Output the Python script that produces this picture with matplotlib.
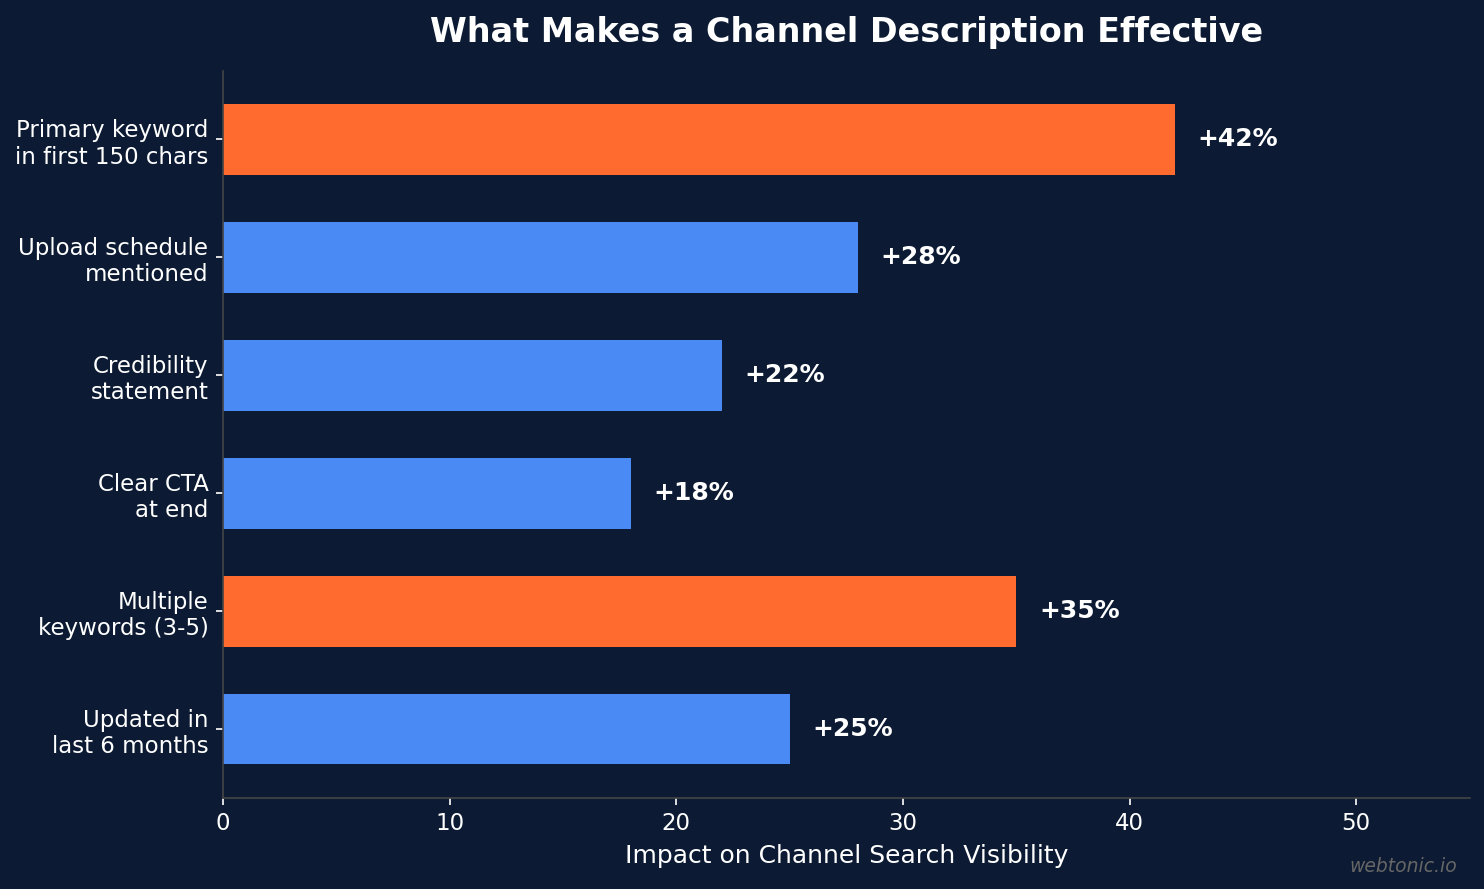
import matplotlib
matplotlib.use("Agg")
import matplotlib.pyplot as plt

categories = ["Primary keyword\nin first 150 chars", "Upload schedule\nmentioned",
              "Credibility\nstatement", "Clear CTA\nat end",
              "Multiple\nkeywords (3-5)", "Updated in\nlast 6 months"]
values = [42, 28, 22, 18, 35, 25]
highlight = [True, False, False, False, True, False]
labels = ["+42%", "+28%", "+22%", "+18%", "+35%", "+25%"]

BG = "#0c1b33"
ORANGE = "#ff6b2e"
BLUE = "#4a8af4"

W, H, DPI = 1484, 889, 150
fig, ax = plt.subplots(figsize=(W / DPI, H / DPI), dpi=DPI)
fig.patch.set_facecolor(BG)
ax.set_facecolor(BG)
fig.subplots_adjust(left=223 / W, right=1469.5 / W, top=1 - 71 / H, bottom=1 - 797.5 / H)

ypos = list(range(len(categories)))
colors = [ORANGE if h else BLUE for h in highlight]
ax.barh(ypos, values, height=0.6, color=colors)
ax.invert_yaxis()
ax.set_yticks(ypos)
ax.set_yticklabels(categories, fontsize=11, color="white")
for y, v, t in zip(ypos, values, labels):
    ax.text(v + 1, y, t, va="center", ha="left", color="white", fontsize=12, fontweight="bold")

ax.set_xlim(0, 55)
ax.tick_params(axis="x", colors="white", labelsize=11)
ax.tick_params(axis="y", colors="white")
ax.set_xlabel("Impact on Channel Search Visibility", color="white", fontsize=12, labelpad=4.5)
ax.set_title("What Makes a Channel Description Effective", color="white", fontsize=16,
             fontweight="bold", pad=14)
for s in ["top", "right"]:
    ax.spines[s].set_visible(False)
for s in ["left", "bottom"]:
    ax.spines[s].set_color("#444444")

fig.text(1457 / W, 1 - 872 / H, "webtonic.io", ha="right", va="baseline", color="#666666",
         fontsize=9, style="italic")

fig.savefig("out.png", dpi=DPI, facecolor=BG)
